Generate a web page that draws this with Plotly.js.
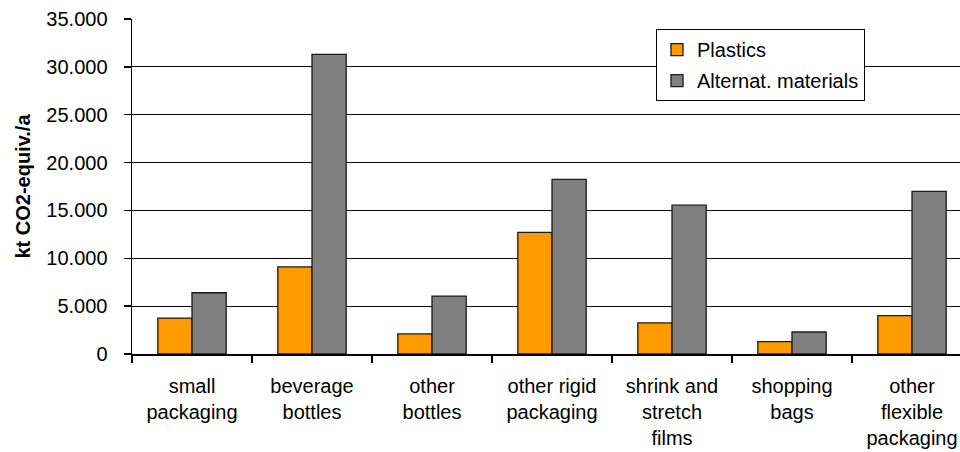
<!DOCTYPE html>
<html>
<head>
<meta charset="utf-8">
<script src="https://cdn.plot.ly/plotly-3.0.1.min.js"></script>
<style>
  html, body { margin: 0; padding: 0; overflow: hidden; background: #fff; }
  #chart { width: 980px; height: 452px; }
</style>
</head>
<body>
<div id="chart"></div>
<script>
const categories = [
  "small<br>packaging",
  "beverage<br>bottles",
  "other<br>bottles",
  "other rigid<br>packaging",
  "shrink and<br>stretch<br>films",
  "shopping<br>bags",
  "other<br>flexible<br>packaging"
];
const plastics = [3750, 9100, 2100, 12700, 3250, 1300, 4000];
const alternatives = [6400, 31300, 6050, 18250, 15550, 2300, 17000];
const seriesNames = ["Plastics", "Alternat. materials"];
const yTicks = [0, 5000, 10000, 15000, 20000, 25000, 30000, 35000];

const font = { family: "Liberation Sans, Arial, sans-serif", size: 20, color: "#000" };

const traces = [
  {
    type: "bar", name: seriesNames[0], x: categories, y: plastics, legendgroup: "p",
    marker: { color: "#FF9900", line: { color: "#1a1a1a", width: 1.3 } }
  },
  {
    type: "bar", name: seriesNames[1], x: categories, y: alternatives, legendgroup: "a",
    marker: { color: "#808080", line: { color: "#1a1a1a", width: 1.3 } }
  }
];

const layout = {
  width: 980, height: 452,
  margin: { l: 132, r: 8, t: 19, b: 98 },
  paper_bgcolor: "#fff", plot_bgcolor: "#fff",
  font: font,
  separators: ",.",
  barmode: "group",
  bargap: 0.43,
  bargroupgap: 0,
  showlegend: true,
  legend: {
    x: 0.6238, y: 0.97, xanchor: "left", yanchor: "top",
    bgcolor: "#fff", bordercolor: "#000", borderwidth: 1,
    font: font, itemwidth: 30, tracegroupgap: 2
  },
  xaxis: {
    type: "category",
    showline: true, linecolor: "#000", linewidth: 1.5,
    ticks: "outside", tickson: "boundaries", ticklen: 7, tickcolor: "#000", tickwidth: 1.5,
    showgrid: false, zeroline: false,
    tickfont: font, ticklabelstandoff: 13,
    range: [-0.5, 6.5]
  },
  yaxis: {
    range: [0, 35000],
    tickvals: yTicks, tickformat: ",.0f",
    showline: true, linecolor: "#000", linewidth: 1.5,
    ticks: "outside", ticklen: 7, tickcolor: "#000", tickwidth: 1.5,
    showgrid: true, gridcolor: "#000", gridwidth: 1,
    zeroline: false,
    tickfont: font, ticklabelstandoff: 12,
    title: { text: "kt CO2-equiv./a", font: { family: "Liberation Sans, Arial, sans-serif", size: 20, color: "#000", weight: "bold" }, standoff: 10 }
  }
};

Plotly.newPlot("chart", traces, layout, { staticPlot: true, displayModeBar: false });
</script>
</body>
</html>
